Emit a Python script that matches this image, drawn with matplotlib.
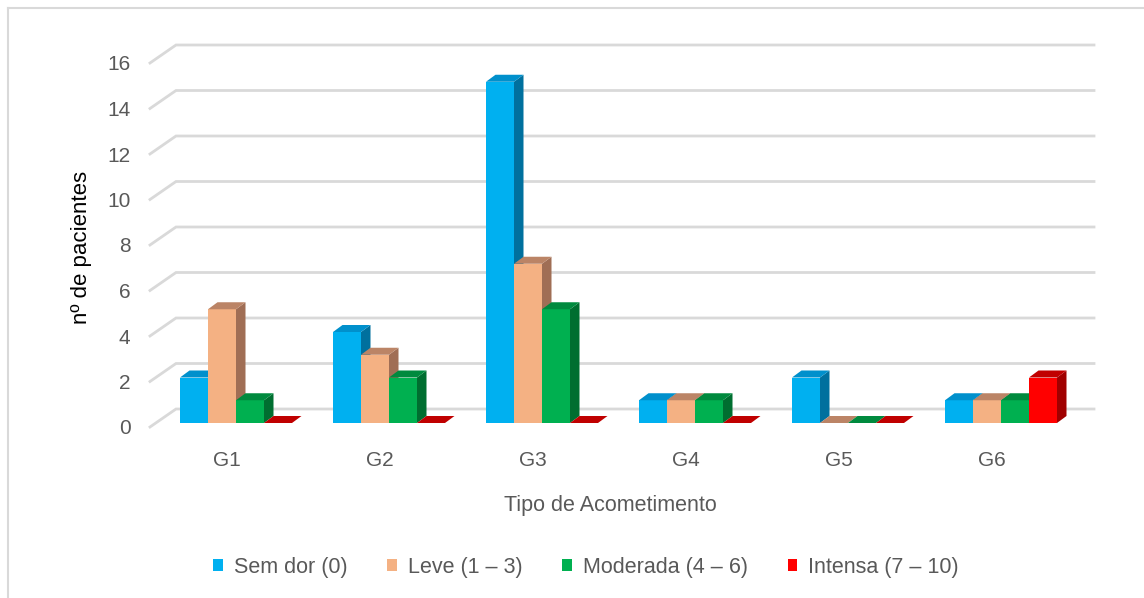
import matplotlib
matplotlib.use("Agg")
import matplotlib.pyplot as plt
from matplotlib.patches import Polygon, Patch
from matplotlib.lines import Line2D

plt.rcParams["font.family"] = ["Liberation Sans", "DejaVu Sans"]

# data
groups = ["G1", "G2", "G3", "G4", "G5", "G6"]
series = ["Sem dor (0)", "Leve (1 – 3)", "Moderada (4 – 6)", "Intensa (7 – 10)"]
sem_dor = [2, 4, 15, 1, 2, 1]
leve = [5, 3, 7, 1, 0, 1]
moderada = [1, 2, 5, 1, 0, 1]
intensa = [0, 0, 0, 0, 0, 2]
yticks = [0, 2, 4, 6, 8, 10, 12, 14, 16]

# front / top / side colours for the fake 3d look
front_cols = ["#00B0F0", "#F4B183", "#00B050", "#FF0000"]
top_cols = ["#0090CC", "#BB8466", "#008A3E", "#C00000"]
side_cols = ["#00709E", "#A06E55", "#006E30", "#A00000"]
grid_col = "#D9D9D9"
text_col = "#595959"

W, H = 1144, 598
fig = plt.figure(figsize=(W / 100, H / 100), dpi=100)

# axes = front edge of the floor; back wall is drawn outside with an offset
px_per_x = 153.0
px_per_y = 22.75
px_left, px_bottom = 150, 427
px_right = px_left + 6 * px_per_x
wall_px_dx, wall_px_dy = 26, 18
px_top = px_bottom - 16 * px_per_y - wall_px_dy
ax = fig.add_axes([px_left / W, 1 - px_bottom / H,
                   (px_right - px_left) / W, (px_bottom - px_top) / H])

xmin, xmax = -0.5, len(groups) - 0.5
ax.set_xlim(xmin, xmax)
ax.set_ylim(0, (px_bottom - px_top) / px_per_y)

# wall depth and bar depth (in data units)
wall_dx, wall_dy = wall_px_dx / px_per_x, wall_px_dy / px_per_y
bar_dx, bar_dy = 9.5 / px_per_x, 7 / px_per_y
front_dx, front_dy = 9.5 / px_per_x, 4 / px_per_y

# gridlines on the back wall with oblique part on the side wall
for v in yticks:
    ax.plot([xmin, xmin + wall_dx, xmax + wall_dx],
            [v, v + wall_dy, v + wall_dy],
            color=grid_col, lw=2, zorder=1, clip_on=False,
            solid_joinstyle="miter")

bw = 28 / px_per_x
all_vals = [sem_dor, leve, moderada, intensa]
z = 2
for gi in range(len(groups)):
    for si, vals in enumerate(all_vals):
        h = vals[gi]
        x = gi + (si - 2) * bw + front_dx
        y = front_dy
        front = Polygon([(x, y), (x + bw, y), (x + bw, y + h), (x, y + h)],
                        closed=True, fc=front_cols[si], ec="none", zorder=z)
        side = Polygon([(x + bw, y), (x + bw + bar_dx, y + bar_dy),
                        (x + bw + bar_dx, y + h + bar_dy), (x + bw, y + h)],
                       closed=True, fc=side_cols[si], ec="none", zorder=z)
        top = Polygon([(x, y + h), (x + bw, y + h),
                       (x + bw + bar_dx, y + h + bar_dy),
                       (x + bar_dx, y + h + bar_dy)],
                      closed=True, fc=top_cols[si], ec="none", zorder=z)
        for p in (side, front, top):
            p.set_clip_on(False)
            ax.add_patch(p)
        z += 1

for s in ax.spines.values():
    s.set_visible(False)

ax.set_yticks(yticks)
ax.set_yticklabels([str(v) for v in yticks])
ax.set_xticks(range(len(groups)))
ax.set_xticklabels(groups)
ax.tick_params(axis="y", length=0, pad=14, labelsize=15, labelcolor=text_col)
ax.tick_params(axis="x", length=0, pad=17, labelsize=15, labelcolor=text_col)

ax.set_xlabel("Tipo de Acometimento", fontsize=15.5, color=text_col, va="center")
ax.xaxis.set_label_coords((610 - px_left) / (px_right - px_left),
                          (px_bottom - 505) / (px_bottom - px_top))
ax.set_ylabel("nº de pacientes", fontsize=16, color="black", va="center")
ax.yaxis.set_label_coords((82 - px_left) / (px_right - px_left),
                          (px_bottom - 247) / (px_bottom - px_top))

handles = [Patch(facecolor=c, edgecolor="none") for c in front_cols]
fig.legend(handles, series, loc="center", ncol=4,
           bbox_to_anchor=(586 / W, 1 - 567 / H), frameon=False,
           fontsize=15.5, labelcolor=text_col,
           handlelength=0.45, handleheight=0.45,
           handletextpad=0.5, columnspacing=1.85)

# chart area border (top and left visible)
fig.add_artist(Line2D([8 / W, 1], [1 - 8 / H, 1 - 8 / H], color=grid_col, lw=1.5))
fig.add_artist(Line2D([8 / W, 8 / W], [0, 1 - 8 / H], color=grid_col, lw=1.5))

fig.savefig("out.png", dpi=100, facecolor="white")
